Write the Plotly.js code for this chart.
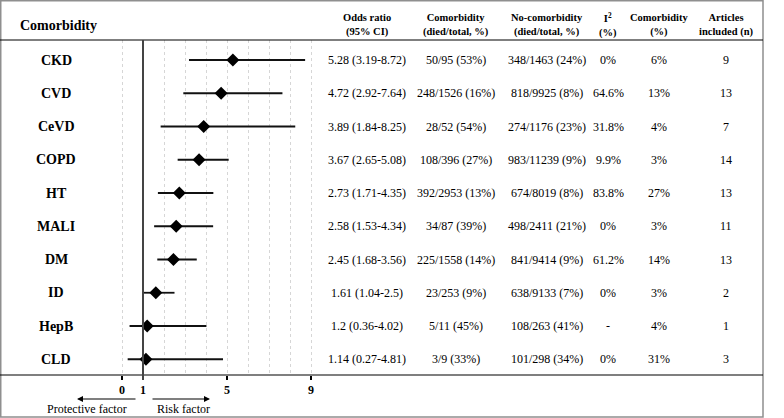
<!DOCTYPE html>
<html>
<head>
<meta charset="utf-8">
<script src="https://cdn.plot.ly/plotly-3.0.1.min.js"></script>
<style>html,body{margin:0;padding:0;background:#fff;}#chart{width:784px;height:418px;}</style>
</head>
<body>
<div id="chart"></div>
<script>
// ---- data ----
const comorbidities = ['CKD','CVD','CeVD','COPD','HT','MALI','DM','ID','HepB','CLD'];
const oddsRatio = [5.28, 4.72, 3.89, 3.67, 2.73, 2.58, 2.45, 1.61, 1.2, 1.14];
const ciLow     = [3.19, 2.92, 1.84, 2.65, 1.71, 1.53, 1.68, 1.04, 0.36, 0.27];
const ciHigh    = [8.72, 7.64, 8.25, 5.08, 4.35, 4.34, 3.56, 2.5, 4.02, 4.81];
const comorbDiedTotal = ['50/95 (53%)','248/1526 (16%)','28/52 (54%)','108/396 (27%)','392/2953 (13%)','34/87 (39%)','225/1558 (14%)','23/253 (9%)','5/11 (45%)','3/9 (33%)'];
const noComorbDiedTotal = ['348/1463 (24%)','818/9925 (8%)','274/1176 (23%)','983/11239 (9%)','674/8019 (8%)','498/2411 (21%)','841/9414 (9%)','638/9133 (7%)','108/263 (41%)','101/298 (34%)'];
const iSquared = ['0%','64.6%','31.8%','9.9%','83.8%','0%','61.2%','0%','-','0%'];
const comorbPct = ['6%','13%','4%','3%','27%','3%','14%','3%','4%','31%'];
const articles = [9, 13, 7, 14, 13, 11, 13, 2, 1, 3];
const tickValues = [0, 1, 5, 9];
const minorTickValues = [2, 3, 4, 6, 7, 8];
const headers = ['Odds ratio<br>(95% CI)','Comorbidity<br>(died/total, %)','No-comorbidity<br>(died/total, %)','I<sup>2</sup><br>(%)','Comorbidity<br>(%)','Articles<br>included (n)'];

// ---- layout helpers ----
const W = 784, H = 418;
const px = v => v / W;
const py = v => 1 - v / H;
const FONT = 'Liberation Serif, Times New Roman, serif';
const rows = comorbidities.map((_, i) => i);

const orText = oddsRatio.map((v, i) => `${v} (${ciLow[i]}-${ciHigh[i]})`);
const columns = [orText, comorbDiedTotal, noComorbDiedTotal, iSquared, comorbPct, articles.map(String)];
const colX = [367, 456, 547, 608, 659, 726];

const trace = {
  x: oddsRatio,
  y: rows,
  type: 'scatter',
  mode: 'markers',
  marker: {symbol: 'diamond', size: 10, color: '#000'},
  error_x: {
    type: 'data', symmetric: false,
    array: oddsRatio.map((v, i) => ciHigh[i] - v),
    arrayminus: oddsRatio.map((v, i) => v - ciLow[i]),
    width: 0, thickness: 1.8, color: '#111'
  },
  hoverinfo: 'skip',
  showlegend: false
};

const annotations = [];
comorbidities.forEach((c, i) => {
  annotations.push({xref: 'paper', yref: 'y', x: px(56), y: i, text: '<b>' + c + '</b>',
    showarrow: false, xanchor: 'center', yanchor: 'middle', font: {family: FONT, size: 14, color: '#000'}});
});
columns.forEach((col, j) => {
  col.forEach((t, i) => {
    annotations.push({xref: 'paper', yref: 'y', x: px(colX[j]), y: i, text: t,
      showarrow: false, xanchor: 'center', yanchor: 'middle', font: {family: FONT, size: 12, color: '#000'}});
  });
  annotations.push({xref: 'paper', yref: 'paper', x: px(colX[j]), y: py(25), text: '<b>' + headers[j] + '</b>',
    showarrow: false, xanchor: 'center', yanchor: 'middle', font: {family: FONT, size: 10.5, color: '#000'}});
});
annotations.push({xref: 'paper', yref: 'paper', x: px(18), y: py(25), text: '<b>Comorbidity</b>',
  showarrow: false, xanchor: 'left', yanchor: 'middle', font: {family: FONT, size: 14, color: '#000'}});
// arrows
annotations.push({xref: 'paper', yref: 'paper', x: px(77), y: py(399), ax: 60, ay: 0, text: '',
  showarrow: true, arrowhead: 2, arrowsize: 1, arrowwidth: 1.2, arrowcolor: '#000'});
annotations.push({xref: 'paper', yref: 'paper', x: px(210), y: py(399), ax: -59, ay: 0, text: '',
  showarrow: true, arrowhead: 2, arrowsize: 1, arrowwidth: 1.2, arrowcolor: '#000'});
annotations.push({xref: 'paper', yref: 'paper', x: px(87), y: py(409), text: 'Protective factor',
  showarrow: false, xanchor: 'center', yanchor: 'middle', font: {family: FONT, size: 12, color: '#000'}});
annotations.push({xref: 'paper', yref: 'paper', x: px(183), y: py(409), text: 'Risk factor',
  showarrow: false, xanchor: 'center', yanchor: 'middle', font: {family: FONT, size: 12, color: '#000'}});

const shapes = [
  // outer border
  {type: 'rect', xref: 'paper', yref: 'paper', x0: px(0.75), x1: px(763), y0: py(417), y1: py(0.75),
   line: {color: '#8f8f8f', width: 1.5}},
  // header line and bottom line
  {type: 'line', xref: 'paper', yref: 'paper', x0: px(0), x1: px(763), y0: py(40), y1: py(40), line: {color: '#000', width: 1.2}},
  {type: 'line', xref: 'paper', yref: 'paper', x0: px(0), x1: px(763), y0: py(375), y1: py(375), line: {color: '#000', width: 1.2}},
  // reference line at OR = 1
  {type: 'line', xref: 'x', yref: 'paper', x0: 1, x1: 1, y0: py(380), y1: py(40), line: {color: '#444', width: 2}}
];

const layout = {
  width: W, height: H,
  margin: {l: 0, r: 0, t: 0, b: 0},
  paper_bgcolor: '#fff', plot_bgcolor: 'rgba(0,0,0,0)',
  font: {family: FONT, color: '#000'},
  xaxis: {
    domain: [px(100), px(330)],
    range: [(100 - 122) / 21, (330 - 122) / 21],
    tickmode: 'array', tickvals: tickValues, ticktext: tickValues.map(String),
    ticks: 'outside', ticklen: 4, tickwidth: 1.3, tickcolor: '#000',
    tickfont: {family: FONT, size: 12, weight: 'bold', color: '#000'},
    showgrid: true, gridcolor: '#d6d6d6', gridwidth: 1, griddash: 'dot',
    minor: {tickmode: 'array', tickvals: minorTickValues, showgrid: true, gridcolor: '#d6d6d6', gridwidth: 1, griddash: 'dot', ticks: ''},
    zeroline: false, showline: false, fixedrange: true
  },
  yaxis: {
    domain: [py(375), py(40)],
    range: [(375 - 60) / 33.25, (40 - 60) / 33.25],
    visible: false, showgrid: false, zeroline: false, fixedrange: true
  },
  shapes: shapes,
  annotations: annotations,
  showlegend: false
};

Plotly.newPlot('chart', [trace], layout, {displayModeBar: false, staticPlot: true});
</script>
</body>
</html>
